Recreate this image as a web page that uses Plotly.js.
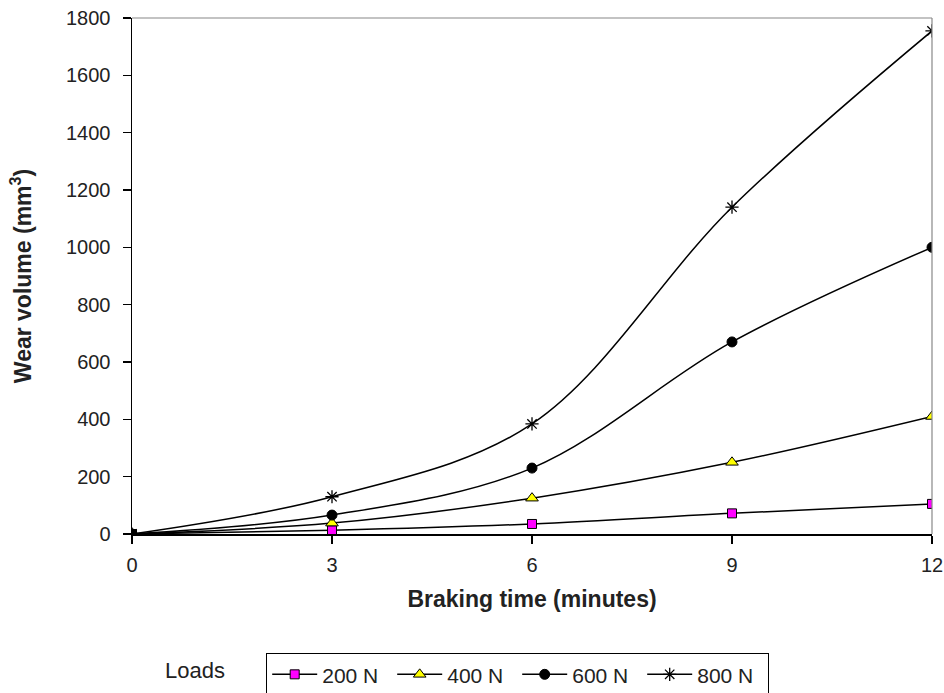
<!DOCTYPE html>
<html>
<head>
<meta charset="utf-8">
<script src="https://cdn.plot.ly/plotly-3.0.1.min.js"></script>
<style>html,body{margin:0;padding:0;background:#fff;}#chart{width:944px;height:693px;}</style>
</head>
<body>
<div id="chart"></div>
<script>
const times = [0, 3, 6, 9, 12];
const load200 = [0, 13, 35, 72, 105];
const load400 = [0, 38, 125, 250, 410];
const load600 = [0, 66, 230, 670, 1000];
const load800 = [0, 130, 384, 1140, 1755];
const seriesNames = ['200 N', '400 N', '600 N', '800 N'];
const yTicks = [0, 200, 400, 600, 800, 1000, 1200, 1400, 1600, 1800];
const xTicks = [0, 3, 6, 9, 12];

const line = {color: '#000', width: 1.5, shape: 'spline', smoothing: 1};
const traces = [
  {x: times, y: load200, name: seriesNames[0], mode: 'lines+markers', line: line,
   marker: {symbol: 'square', size: 9, color: '#ff00ff', line: {color: '#000', width: 1}}},
  {x: times, y: load400, name: seriesNames[1], mode: 'lines+markers', line: line,
   marker: {symbol: 'triangle-up', size: 11, color: '#ffff00', line: {color: '#000', width: 1}}},
  {x: times, y: load600, name: seriesNames[2], mode: 'lines+markers', line: line,
   marker: {symbol: 'circle', size: 10, color: '#000', line: {color: '#000', width: 1}}},
  {x: times, y: load800, name: seriesNames[3], mode: 'lines+markers', line: line,
   marker: {symbol: 'asterisk-open', size: 11, color: '#000', line: {color: '#000', width: 1.3}}}
];

const layout = {
  width: 944, height: 693,
  margin: {l: 132, r: 12, t: 18, b: 159, autoexpand: false},
  paper_bgcolor: '#fff', plot_bgcolor: '#fff',
  font: {family: 'Liberation Sans, Arial, sans-serif', size: 20, color: '#222'},
  showlegend: true,
  xaxis: {
    range: [0, 12], tickvals: xTicks, ticktext: xTicks.map(String), automargin: false,
    showgrid: false, zeroline: false, showline: true, linecolor: '#000', linewidth: 1.5,
    ticks: 'outside', ticklen: 8, tickcolor: '#000', tickwidth: 1.3, ticklabelstandoff: 4,
    tickfont: {size: 20},
    title: {text: '<b>Braking time (minutes)</b>', font: {size: 23}, standoff: 16}
  },
  yaxis: {
    range: [0, 1800], tickvals: yTicks, ticktext: yTicks.map(String), automargin: false,
    showgrid: false, zeroline: false, showline: true, linecolor: '#000', linewidth: 1.5,
    ticks: 'outside', ticklen: 8, tickcolor: '#000', tickwidth: 1.3, ticklabelstandoff: 8,
    tickfont: {size: 20},
    title: {text: '<b>Wear volume (mm<sup>3</sup>)</b>', font: {size: 23}, standoff: 28}
  },
  shapes: [
    {type: 'line', xref: 'paper', yref: 'paper', x0: 0, x1: 1, y0: 1, y1: 1, line: {color: '#888', width: 1.2}},
    {type: 'line', xref: 'paper', yref: 'paper', x0: 1, x1: 1, y0: 0, y1: 1, line: {color: '#888', width: 1.2}}
  ],
  legend: {
    orientation: 'h', x: 0.1675, y: -0.2306, xanchor: 'left', yanchor: 'top',
    bordercolor: '#000', borderwidth: 1.2, bgcolor: '#fff',
    font: {size: 21, color: '#222'}, entrywidth: 65, entrywidthmode: 'pixels',
    itemwidth: 45, tracegroupgap: 0
  },
  annotations: [
    {text: 'Loads', xref: 'paper', yref: 'paper', x: 0.079, y: -0.2655, xanchor: 'center', yanchor: 'middle',
     showarrow: false, font: {size: 22, color: '#222'}}
  ]
};

Plotly.newPlot('chart', traces, layout, {displayModeBar: false, staticPlot: true});
</script>
</body>
</html>
